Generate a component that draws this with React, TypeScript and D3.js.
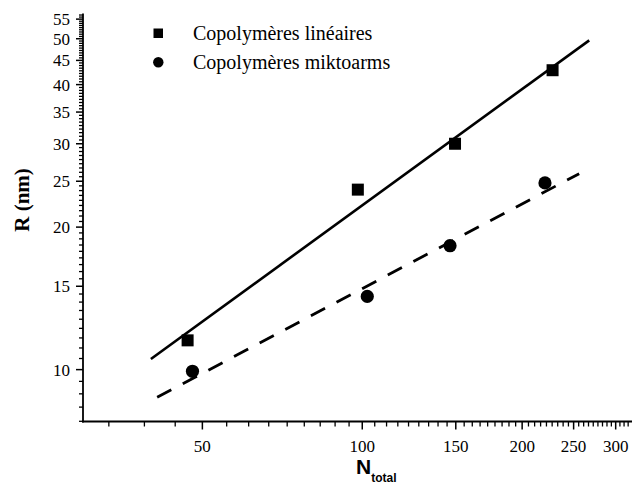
import * as d3 from 'd3';

// values (log-log plot)
const linN = [46.9, 98.1, 149.5, 228.2];
const linR = [11.53, 24.0, 30.0, 42.9];
const miktoN = [47.9, 102.2, 146.3, 220.8];
const miktoR = [9.92, 14.28, 18.27, 24.8];

// fitted lines (end points of each straight line in log-log)
const linFitN = [40.0, 267.5];
const linFitR = [10.53, 49.6];
const miktoFitN = [41.1, 256.1];
const miktoFitR = [8.74, 25.94];

const xMajor = [50, 100, 150, 200, 250, 300];
const yMajor = [10, 15, 20, 25, 30, 35, 40, 45, 50, 55];

const legendLabels = ['Copolymères linéaires', 'Copolymères miktoarms'];

const W = 632;
const H = 486;
const serif = '"Liberation Serif", "Times New Roman", Times, serif';
const sans = '"Liberation Sans", Arial, Helvetica, sans-serif';

// Origin-style minor ticks: 8 per major interval
const minorTicks = (step: number, lo: number, hi: number) => {
  const out: number[] = [];
  for (let a = 0; a <= hi; a += step) {
    for (let k = 1; k <= 8; k++) {
      const v = a + (k * step) / 9;
      if (v > lo && v < hi) out.push(v);
    }
  }
  return out;
};

const App = () => {
  const x = d3.scaleLog().domain([29.8, 322]).range([83, 632]);
  const y = d3.scaleLog().domain([7.77, 56.5]).range([421.5, 13.6]);

  const [x0, x1] = x.range();
  const [y0, y1] = y.range();

  const line = d3
    .line<[number, number]>()
    .x((d) => x(d[0]))
    .y((d) => y(d[1]));

  const linFit = linFitN.map((n, i) => [n, linFitR[i]] as [number, number]);
  const miktoFit = miktoFitN.map((n, i) => [n, miktoFitR[i]] as [number, number]);

  const xMinor = minorTicks(50, x.domain()[0], x.domain()[1]);
  const yMinor = minorTicks(5, y.domain()[0], y.domain()[1]);

  return (
    <svg
      width={W}
      height={H}
      style={{ position: 'absolute', left: 0, top: 0, background: '#fff' }}
    >
      {/* fit lines */}
      <path d={line(linFit) ?? ''} fill="none" stroke="#000" strokeWidth={2.6} />
      <path
        d={line(miktoFit) ?? ''}
        fill="none"
        stroke="#000"
        strokeWidth={2.8}
        strokeDasharray="16,13"
      />

      {/* points */}
      {linN.map((n, i) => (
        <rect key={'s' + i} x={x(n) - 6} y={y(linR[i]) - 6} width={12} height={12} fill="#000" />
      ))}
      {miktoN.map((n, i) => (
        <circle key={'c' + i} cx={x(n)} cy={y(miktoR[i])} r={6.6} fill="#000" />
      ))}

      {/* y axis */}
      <line x1={x0} x2={x0} y1={y0 + 1} y2={y1} stroke="#000" strokeWidth={1.8} />
      {yMinor.map((v) => (
        <line key={'ym' + v} x1={x0 - 4} x2={x0} y1={y(v)} y2={y(v)} stroke="#000" strokeWidth={1.3} />
      ))}
      {yMajor.map((v) => (
        <g key={'yM' + v}>
          <line x1={x0 - 7} x2={x0} y1={y(v)} y2={y(v)} stroke="#000" strokeWidth={1.5} />
          <text
            x={70}
            y={y(v)}
            dy="0.35em"
            textAnchor="end"
            fontFamily={serif}
            fontSize={17}
          >
            {v}
          </text>
        </g>
      ))}

      {/* x axis */}
      <line x1={x0 - 1} x2={x1} y1={y0} y2={y0} stroke="#000" strokeWidth={1.8} />
      {xMinor.map((v) => (
        <line key={'xm' + v} x1={x(v)} x2={x(v)} y1={y0} y2={y0 + 5} stroke="#000" strokeWidth={1.3} />
      ))}
      {xMajor.map((v) => (
        <g key={'xM' + v}>
          <line x1={x(v)} x2={x(v)} y1={y0} y2={y0 + 8} stroke="#000" strokeWidth={1.5} />
          <text
            x={x(v)}
            y={451.5}
            textAnchor="middle"
            fontFamily={serif}
            fontSize={17}
          >
            {v}
          </text>
        </g>
      ))}

      {/* axis titles */}
      <text
        transform="translate(28.5,200) rotate(-90)"
        textAnchor="middle"
        fontFamily={serif}
        fontWeight="bold"
        fontSize={21}
      >
        R (nm)
      </text>
      <text x={356} y={474} fontFamily={sans} fontWeight="bold" fontSize={21}>
        N
        <tspan fontSize={12} dy={7.5}>
          total
        </tspan>
      </text>

      {/* legend */}
      <rect x={153.5} y={28.5} width={9.5} height={9.5} fill="#000" />
      <text x={193} y={39.5} fontFamily={serif} fontSize={20}>
        {legendLabels[0]}
      </text>
      <circle cx={158.3} cy={62.3} r={5.2} fill="#000" />
      <text x={193} y={68.5} fontFamily={serif} fontSize={20}>
        {legendLabels[1]}
      </text>
    </svg>
  );
};

export default App;
